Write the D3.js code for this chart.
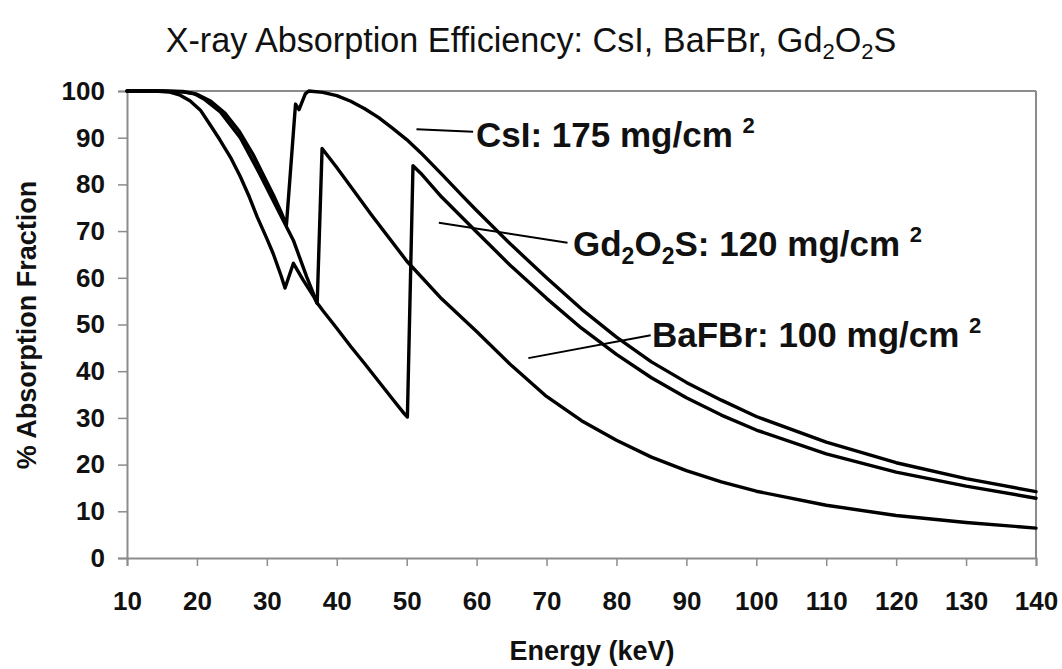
<!DOCTYPE html>
<html><head><meta charset="utf-8">
<script src="https://cdn.jsdelivr.net/npm/d3@7"></script>
<style>
body{margin:0;background:#fff;}
svg{display:block;font-family:"Liberation Sans",Arial,sans-serif;}
</style></head>
<body><svg id="c" width="1062" height="669"></svg>
<script>
// ---- data ----
const xTicks = [10,20,30,40,50,60,70,80,90,100,110,120,130,140];
const yTicks = [0,10,20,30,40,50,60,70,80,90,100];

const csiEnergy = [10,15,18,20,22,24,26,28,30,31,32,32.8,34.1,34.6,35.5,36,38,40,42,44,46,48,50,52,55,58,60,65,70,75,80,85,90,95,100,110,120,130,140];
const csiValue  = [100,100,99.8,99.3,97.8,95.3,91.5,86.5,80.5,77.5,74.2,71.3,97.2,96,99.4,100,99.7,99,97.8,96.2,94.3,92,89.6,86.8,82.2,77.5,74.4,67,60,53.3,47.3,42,37.6,33.8,30.3,24.8,20.4,17,14.2];

const gdEnergy = [10,15,18,19.5,21,23.3,26.2,29,31.9,33.8,35.7,37.2,38,40,42,44,46,48,49.7,50.1,50.9,52,55,60,65,70,75,80,85,90,95,100,110,120,130,140];
const gdValue  = [100,100,99.9,99.5,98.3,95.6,90,82.2,73.6,68,60.2,54.6,53,49.2,45.3,41.6,37.8,34,30.8,30.2,84,82.4,77.3,69.8,62.4,55.6,49.2,43.6,38.6,34.3,30.6,27.4,22.3,18.4,15.4,12.8];

const bafbrEnergy = [10,14,16,17.6,19,20.5,22,23.3,24.8,26.2,27.5,28.6,30,30.9,32,32.6,33.8,35.2,36.7,37.2,37.9,40,45,50,55,60,65,70,75,80,85,90,95,100,110,120,130,140];
const bafbrValue  = [100,100,99.8,99.1,97.9,95.9,92.5,89.5,85.8,81.7,77.3,73.1,68.4,65.2,60.6,57.8,63.1,59.5,56,54.5,87.7,83.6,73.4,63.6,55.5,48.5,41.2,34.6,29.4,25.2,21.6,18.7,16.3,14.3,11.3,9.1,7.6,6.4];

// ---- layout ----
const W=1062, H=669;
const m={l:127,r:26,t:91,b:111};
const svg=d3.select("#c");
const x=d3.scaleLinear().domain([10,140]).range([m.l,W-m.r]);
const y=d3.scaleLinear().domain([0,100]).range([H-m.b,m.t]);
const axisCol="#8c8c8c";

// title
const t=svg.append("text").attr("x",531).attr("y",52).attr("text-anchor","middle")
  .attr("font-size",34.2).attr("fill","#111");
t.append("tspan").text("X-ray Absorption Efficiency: CsI, BaFBr, Gd");
t.append("tspan").attr("font-size",22).attr("dy",7).text("2");
t.append("tspan").attr("dy",-7).text("O");
t.append("tspan").attr("font-size",22).attr("dy",7).text("2");
t.append("tspan").attr("dy",-7).text("S");

// frame (top & right)
svg.append("line").attr("x1",x(10)).attr("x2",x(140)).attr("y1",y(100)).attr("y2",y(100)).attr("stroke",axisCol).attr("stroke-width",2);
svg.append("line").attr("x1",x(140)).attr("x2",x(140)).attr("y1",y(100)).attr("y2",y(0)).attr("stroke",axisCol).attr("stroke-width",2);

// axes
const xa=svg.append("g").attr("transform",`translate(0,${y(0)})`)
  .call(d3.axisBottom(x).tickValues(xTicks).tickSize(8).tickPadding(26).tickFormat(d3.format("d")));
const ya=svg.append("g").attr("transform",`translate(${x(10)},0)`)
  .call(d3.axisLeft(y).tickValues(yTicks).tickSize(9).tickPadding(13).tickFormat(d3.format("d")));
[xa,ya].forEach(g=>{
  g.select(".domain").attr("stroke",axisCol).attr("stroke-width",2);
  g.selectAll(".tick line").attr("stroke",axisCol).attr("stroke-width",1.5);
  g.selectAll(".tick text").attr("font-size",26).attr("font-weight","bold").attr("fill","#111")
   .attr("font-family","Liberation Sans, Arial, sans-serif");
});

// axis titles
svg.append("text").attr("x",592).attr("y",660).attr("text-anchor","middle")
  .attr("font-size",27).attr("font-weight","bold").attr("fill","#111").text("Energy (keV)");
svg.append("text").attr("transform","translate(36,325) rotate(-90)").attr("text-anchor","middle")
  .attr("font-size",27).attr("font-weight","bold").attr("fill","#111").text("% Absorption Fraction");

// curves
const line=d3.line().x(d=>x(d[0])).y(d=>y(d[1]));
const series=[
  d3.zip(csiEnergy,csiValue),
  d3.zip(gdEnergy,gdValue),
  d3.zip(bafbrEnergy,bafbrValue)
];
svg.append("g").selectAll("path").data(series).join("path")
  .attr("d",line).attr("fill","none").attr("stroke","#000").attr("stroke-width",3.4)
  .attr("stroke-linejoin","round").attr("stroke-linecap","round");

// annotations (leader lines in data units)
function leader(x1,y1,x2,y2){
  svg.append("line").attr("x1",x(x1)).attr("y1",y(y1)).attr("x2",x(x2)).attr("y2",y(y2))
   .attr("stroke","#000").attr("stroke-width",2);
}
leader(51.4,91.8,59.5,91.3);
leader(54.6,71.8,73.0,67.5);
leader(67.4,42.8,84.9,47.7);

function label(px,py,parts){
  const tx=svg.append("text").attr("x",px).attr("y",py).attr("font-size",35)
    .attr("font-weight","bold").attr("fill","#111");
  parts.forEach(p=>{
    const s=tx.append("tspan").text(p.t);
    if(p.sub){s.attr("font-size",23).attr("dy",8);}
    if(p.back){s.attr("dy",-8);}
    if(p.sup){s.attr("font-size",22).attr("dy",-14);}
  });
}
label(476,147,[{t:"CsI: 175 mg/cm "},{t:"2",sup:true}]);
label(573,256,[{t:"Gd"},{t:"2",sub:true},{t:"O",back:true},{t:"2",sub:true},{t:"S: 120 mg/cm ",back:true},{t:"2",sup:true}]);
label(652,347,[{t:"BaFBr: 100 mg/cm "},{t:"2",sup:true}]);
</script></body></html>
